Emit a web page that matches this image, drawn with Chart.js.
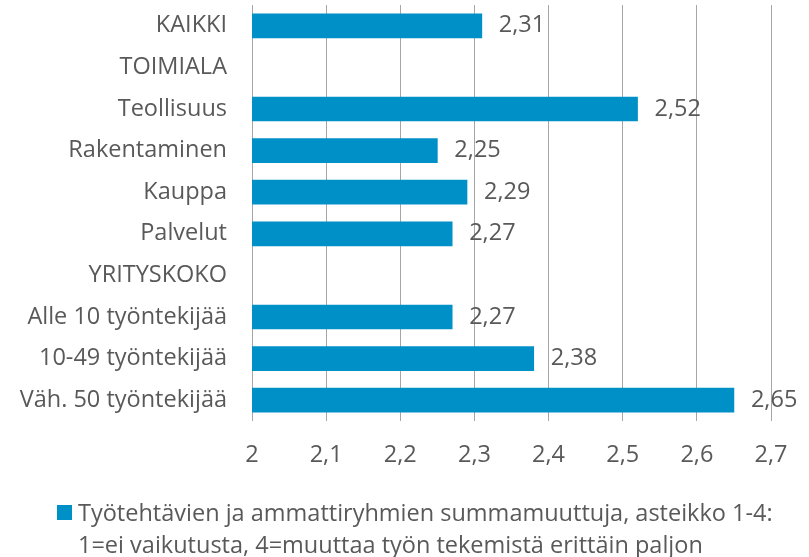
<!DOCTYPE html>
<html>
<head>
<meta charset="utf-8">
<script src="https://cdn.jsdelivr.net/npm/chart.js@4"></script>
<style>
  body { margin: 0; background: #fff; }
  #wrap { position: relative; width: 809px; height: 557px; }
  #legend {
    position: absolute; left: 57px; top: 496px;
    font-family: "Open Sans", sans-serif; font-size: 23.5px; line-height: 32px; color: #595959;
  }
  #legend .box {
    position: absolute; left: 0; top: 9px; width: 15px; height: 15px; background: #0090c8;
  }
  #legend .txt { margin-left: 21px; white-space: nowrap; }
</style>
</head>
<body>
<div id="wrap">
  <canvas id="chart" width="809" height="557"></canvas>
  <div id="legend"><span class="box"></span><div class="txt" id="legendText"></div></div>
</div>
<script>
// categories, top to bottom
const categories = [
  "KAIKKI", "TOIMIALA", "Teollisuus", "Rakentaminen", "Kauppa", "Palvelut",
  "YRITYSKOKO", "Alle 10 työntekijää", "10-49 työntekijää", "Väh. 50 työntekijää"
];
// group header rows have no value
const values = [2.31, null, 2.52, 2.25, 2.29, 2.27, null, 2.27, 2.38, 2.65];
const xTicks = [2, 2.1, 2.2, 2.3, 2.4, 2.5, 2.6, 2.7];
const seriesLabel = [
  "Työtehtävien ja ammattiryhmien summamuuttuja, asteikko 1-4:",
  "1=ei vaikutusta, 4=muuttaa työn tekemistä erittäin paljon"
];

const textColor = "#595959";
const font = { family: "'Open Sans', sans-serif", size: 23.5 };

function fmt(v) {
  return String(Math.round(v * 100) / 100).replace(".", ",");
}

document.getElementById("legendText").innerHTML = seriesLabel.join("<br>");

// value labels at the end of each bar
const valueLabels = {
  id: "valueLabels",
  afterDatasetsDraw(chart) {
    const ctx = chart.ctx;
    const meta = chart.getDatasetMeta(0);
    ctx.save();
    ctx.font = font.size + "px " + font.family;
    ctx.fillStyle = textColor;
    ctx.textBaseline = "middle";
    ctx.textAlign = "left";
    meta.data.forEach((bar, i) => {
      if (values[i] == null) return;
      ctx.fillText(fmt(values[i]), bar.x + 17, bar.y);
    });
    ctx.restore();
  }
};

new Chart(document.getElementById("chart"), {
  type: "bar",
  data: {
    labels: categories,
    datasets: [{
      label: seriesLabel.join(" "),
      data: values,
      backgroundColor: "#0090c8",
      barThickness: 24
    }]
  },
  options: {
    indexAxis: "y",
    responsive: false,
    animation: false,
    layout: { padding: { top: 5, right: 38, left: 0, bottom: 0 } },
    plugins: {
      legend: { display: false },
      tooltip: { enabled: false }
    },
    scales: {
      x: {
        min: 2,
        max: 2.7,
        afterBuildTicks(scale) {
          scale.ticks = xTicks.map(v => ({ value: v }));
        },
        afterFit(scale) { scale.height = 136; },
        grid: { color: "#a6a6a6", drawTicks: false },
        border: { display: false },
        ticks: {
          color: textColor,
          font: font,
          padding: 20,
          callback: v => fmt(v)
        }
      },
      y: {
        afterFit(scale) {
          scale.width = 252;
          scale.paddingTop = 0;
          scale.paddingBottom = 0;
        },
        grid: { display: false, drawTicks: false },
        border: { display: false },
        ticks: { color: textColor, font: font, padding: 25 }
      }
    }
  },
  plugins: [valueLabels]
});
</script>
</body>
</html>
